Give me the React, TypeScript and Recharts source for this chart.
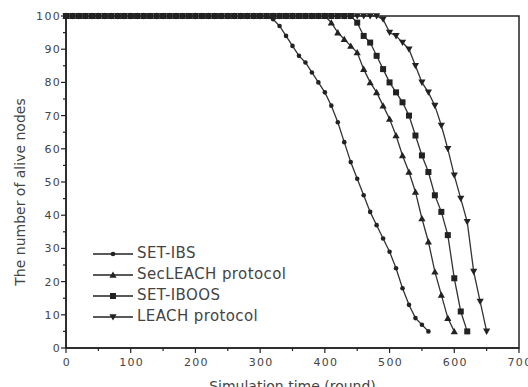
import React from 'react';
import { LineChart, Line, XAxis, YAxis, ReferenceArea } from 'recharts';

// rounds shared by every series (x values)
const rounds = [
  0, 10, 20, 30, 40, 50, 60, 70, 80, 90, 100, 110, 120, 130, 140, 150, 160, 170, 180, 190,
  200, 210, 220, 230, 240, 250, 260, 270, 280, 290, 300, 310, 320, 330, 340, 350, 360, 370, 380, 390,
  400, 410, 420, 430, 440, 450, 460, 470, 480, 490, 500, 510, 520, 530, 540, 550, 560, 570, 580, 590,
  600, 610, 620, 630, 640, 650,
];

// alive nodes per round, starting at round 0
const setIbs = [
  100, 100, 100, 100, 100, 100, 100, 100, 100, 100, 100, 100, 100, 100, 100, 100,
  100, 100, 100, 100, 100, 100, 100, 100, 100, 100, 100, 100, 100, 100, 100, 100,
  99, 97, 94, 91, 88, 86, 83, 80, 77, 73, 68, 62, 56, 51, 46, 41, 37, 33, 29, 24, 18, 13, 9, 7, 5,
];
const secLeach = [
  100, 100, 100, 100, 100, 100, 100, 100, 100, 100, 100, 100, 100, 100, 100, 100,
  100, 100, 100, 100, 100, 100, 100, 100, 100, 100, 100, 100, 100, 100, 100, 100,
  100, 100, 100, 100, 100, 100, 100, 100, 100,
  98, 95, 93, 91, 89, 84, 80, 77, 73, 69, 64, 58, 53, 47, 39, 32, 23, 16, 9, 5,
];
const setIboos = [
  100, 100, 100, 100, 100, 100, 100, 100, 100, 100, 100, 100, 100, 100, 100, 100,
  100, 100, 100, 100, 100, 100, 100, 100, 100, 100, 100, 100, 100, 100, 100, 100,
  100, 100, 100, 100, 100, 100, 100, 100, 100, 100, 100, 100, 100,
  98, 94, 92, 88, 84, 80, 77, 74, 70, 64, 58, 53, 46, 41, 34, 21, 11, 5,
];
const leach = [
  100, 100, 100, 100, 100, 100, 100, 100, 100, 100, 100, 100, 100, 100, 100, 100,
  100, 100, 100, 100, 100, 100, 100, 100, 100, 100, 100, 100, 100, 100, 100, 100,
  100, 100, 100, 100, 100, 100, 100, 100, 100, 100, 100, 100, 100, 100, 100, 100, 100,
  99, 95, 94, 92, 90, 85, 80, 77, 73, 67, 60, 52, 45, 38, 23, 14, 5,
];

const xTicks = [0, 50, 100, 150, 200, 250, 300, 350, 400, 450, 500, 550, 600, 650, 700];
const yTicks = [0, 5, 10, 15, 20, 25, 30, 35, 40, 45, 50, 55, 60, 65, 70, 75, 80, 85, 90, 95, 100];

const toPoints = (values: number[]) => values.map((v, i) => ({ round: rounds[i], alive: v }));

const INK = '#222';
const TEXT = '#444';
const FONT = '"DejaVu Sans", sans-serif';

type Shape = 'dot' | 'up' | 'square' | 'down';

const series: { name: string; values: number[]; shape: Shape }[] = [
  { name: 'SET-IBS', values: setIbs, shape: 'dot' },
  { name: 'SecLEACH protocol', values: secLeach, shape: 'up' },
  { name: 'SET-IBOOS', values: setIboos, shape: 'square' },
  { name: 'LEACH protocol', values: leach, shape: 'down' },
];

const Marker = ({ cx, cy, shape }: { cx: number; cy: number; shape: Shape }) => {
  if (cx == null || cy == null) return null;
  if (shape === 'dot') return <circle cx={cx} cy={cy} r={2.3} fill={INK} />;
  if (shape === 'square') return <rect x={cx - 3} y={cy - 3} width={6} height={6} fill={INK} />;
  if (shape === 'up')
    return <polygon points={`${cx},${cy - 3.5} ${cx + 3.6},${cy + 2.8} ${cx - 3.6},${cy + 2.8}`} fill={INK} />;
  return <polygon points={`${cx},${cy + 3.5} ${cx + 3.6},${cy - 2.8} ${cx - 3.6},${cy - 2.8}`} fill={INK} />;
};

const XTick = (props: any) => {
  const { x, y, payload } = props;
  const major = payload.value % 100 === 0;
  return (
    <g>
      <line x1={x} y1={y} x2={x} y2={y + (major ? 5 : 3)} stroke={INK} strokeWidth={1.2} />
      {major && (
        <text x={x + 1} y={y + 18} textAnchor="middle" fontSize={11} fill={TEXT} fontFamily={FONT} letterSpacing={1.3}>
          {payload.value}
        </text>
      )}
    </g>
  );
};

const YTick = (props: any) => {
  const { x, y, payload } = props;
  const major = payload.value % 10 === 0;
  return (
    <g>
      <line x1={x} y1={y} x2={x - (major ? 5 : 3)} y2={y} stroke={INK} strokeWidth={1.2} />
      {major && (
        <text x={x - 5} y={y + 4} textAnchor="end" fontSize={11} fill={TEXT} fontFamily={FONT} letterSpacing={1.3}>
          {payload.value}
        </text>
      )}
    </g>
  );
};

const YTitle = (props: any) => {
  const vb = props.viewBox;
  const x = vb.x + 10;
  const y = vb.y + vb.height / 2 + 10;
  return (
    <text x={x} y={y} transform={`rotate(-90 ${x} ${y})`} textAnchor="middle" dominantBaseline="central" fontSize={14} fill={TEXT} fontFamily={FONT}>
      The number of alive nodes
    </text>
  );
};

const LegendBox = () => (
  <div style={{ position: 'absolute', left: 92, top: 243, fontFamily: FONT, fontSize: 15, color: TEXT, lineHeight: '21px' }}>
    {series.map((s) => (
      <div key={s.name} style={{ display: 'flex', alignItems: 'center', height: 21 }}>
        <svg width={42} height={12} style={{ marginRight: 3 }}>
          <line x1={1} y1={6} x2={41} y2={6} stroke={INK} strokeWidth={1.5} />
          <Marker cx={21} cy={6} shape={s.shape} />
        </svg>
        <span style={{ letterSpacing: 0.4 }}>{s.name}</span>
      </div>
    ))}
  </div>
);

export default function App() {
  return (
    <div style={{ position: 'absolute', left: 0, top: 0, width: 528, height: 387, background: '#fff', overflow: 'hidden' }}>
      <LineChart width={528} height={387} margin={{ top: 16, right: 9, bottom: 9, left: 10 }}>
        <XAxis
          dataKey="round"
          type="number"
          domain={[0, 700]}
          ticks={xTicks}
          interval={0}
          tickSize={0}
          tickMargin={0}
          tickLine={false}
          tick={<XTick />}
          height={30}
          stroke={INK}
          strokeWidth={1.5}
          allowDuplicatedCategory={false}
          label={{ value: 'Simulation time (round)', position: 'bottom', offset: 3, fontSize: 14, fill: TEXT, fontFamily: FONT }}
        />
        <YAxis
          type="number"
          domain={[0, 100]}
          ticks={yTicks}
          interval={0}
          tickSize={0}
          tickMargin={0}
          tickLine={false}
          tick={<YTick />}
          width={56}
          stroke={INK}
          strokeWidth={1.5}
          label={<YTitle />}
        />
        <ReferenceArea x1={0} x2={700} y1={0} y2={100} fill="none" stroke={INK} strokeWidth={1.5} ifOverflow="visible" />
        {series.map((s) => (
          <Line
            key={s.name}
            data={toPoints(s.values)}
            dataKey="alive"
            name={s.name}
            stroke="#333"
            strokeWidth={1.3}
            isAnimationActive={false}
            dot={(p: any) => <Marker key={`${s.name}-${p.index}`} cx={p.cx} cy={p.cy} shape={s.shape} />}
          />
        ))}
      </LineChart>
      <LegendBox />
    </div>
  );
}
